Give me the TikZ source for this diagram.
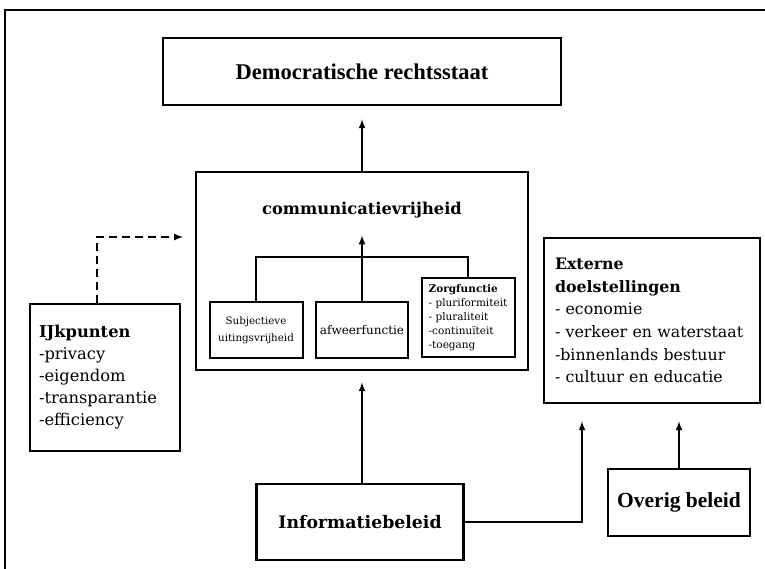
\documentclass[tikz,border=0pt]{standalone}
\usepackage{fontspec}
\setmainfont{DejaVu Serif}
\newfontfamily\timesfont{Liberation Serif}
\usepackage{tikz}

\begin{document}
\begin{tikzpicture}[x=1pt, y=-1pt, >=latex,
        box/.style={draw, rectangle, line width=2.8pt, inner sep=0pt},
        subbox/.style={draw, rectangle, line width=2pt, inner sep=0pt, minimum height=56pt},
        arr/.style={->, line width=2pt}]
        \useasboundingbox (0,0) rectangle (765,569);
        \draw[line width=2.8pt] (5,569) -- (5,10) -- (765,10);

        \node[box, minimum width=398pt, minimum height=67pt, font=\timesfont\bfseries\fontsize{22.5}{26}\selectfont] (demo) at (362,71.5) {Democratische rechtsstaat};
        \node[box, minimum width=332pt, minimum height=198pt] (comm) at (362,271) {};
        \node[font=\bfseries\fontsize{16.3}{19}\selectfont] (commtitle) at (362,210) {communicatievrijheid};

        \node[subbox, minimum width=93pt, align=center, font=\fontsize{10.3}{17}\selectfont] (subj) at (256,330) {Subjectieve\\uitingsvrijheid};
        \node[subbox, minimum width=92pt, font=\fontsize{12}{14}\selectfont] (afweer) at (362,330) {afweerfunctie};
        \node[subbox, minimum width=93pt, minimum height=79pt, align=left, font=\fontsize{10.5}{14}\selectfont] (zorg) at (468,317.5) {{\bfseries Zorgfunctie}\\- pluriformiteit\\- pluraliteit\\-continuïteit\\-toegang};

        \node[box, minimum width=150pt, minimum height=147pt, text width=132pt, align=left, font=\fontsize{16.3}{22}\selectfont] (ijk) at (105,377.5) {{\bfseries IJkpunten}\\-privacy\\-eigendom\\-transparantie\\-efficiency};
        \node[box, minimum width=216pt, minimum height=165pt, text width=194pt, align=left, font=\fontsize{15.8}{22.6}\selectfont] (ext) at (652,320.5) {{\bfseries Externe\\doelstellingen}\\- economie\\- verkeer en waterstaat\\-binnenlands bestuur\\- cultuur en educatie};
        \node[box, minimum width=207pt, minimum height=76pt, font=\bfseries\fontsize{17.3}{20}\selectfont] (info) at (360,522) {Informatiebeleid};
        \node[box, minimum width=142pt, minimum height=67pt, font=\timesfont\bfseries\fontsize{21.5}{24}\selectfont] (overig) at (679,502.5) {Overig beleid};

        \coordinate (bar) at (362,257);
        \coordinate (ijkin) at (183,237);
        \draw[line width=1.7pt] (subj.north) |- (bar) -| (zorg.north);
        \draw[line width=1.7pt] (afweer.north) -- (bar);
        \draw[arr, shorten >=14pt] (bar) -- (commtitle.south);
        \draw[arr, shorten >=13pt] (comm.north) -- (demo.south);
        \draw[arr, dash pattern=on 8pt off 5pt] ([xshift=-8pt]ijk.north) |- (ijkin);
        \draw[arr, shorten >=11pt] (comm.south |- info.north) -- (comm.south);
        \draw[arr, shorten >=17pt] (info.east) -| ([xshift=-70pt]ext.south);
        \draw[arr, shorten >=17pt] (overig.north) -- (overig.north |- ext.south);
    \end{tikzpicture}
\end{document}
